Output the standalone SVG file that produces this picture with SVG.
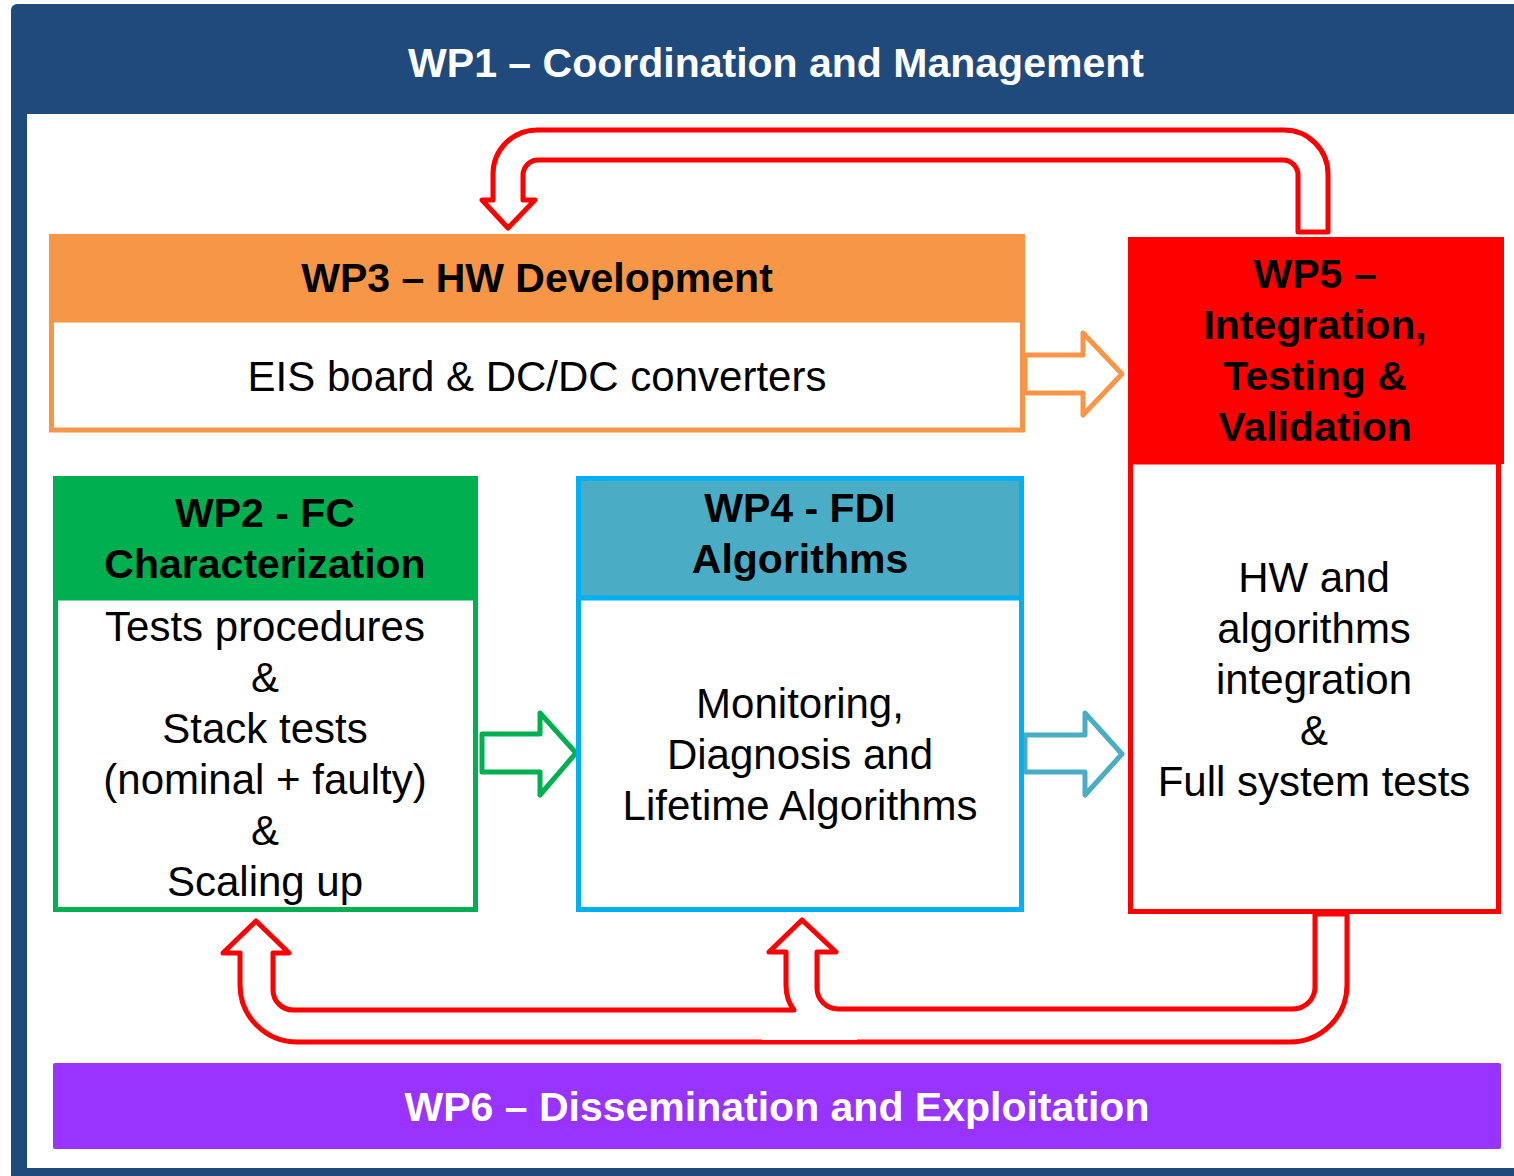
<svg xmlns="http://www.w3.org/2000/svg" width="1514" height="1176" viewBox="0 0 1514 1176">
<style>
.h{font-family:"Liberation Sans",Arial,sans-serif;font-weight:bold;font-size:41px;text-anchor:middle;fill:#000}
.b{font-family:"Liberation Sans",Arial,sans-serif;font-size:42px;text-anchor:middle;fill:#000}
.w{fill:#fff}
.arr{fill:#fff;stroke-width:5;stroke-linejoin:round}
</style>
<rect width="1514" height="1176" fill="#fff"/>
<g id="wp1">
<rect x="11" y="4" width="1530" height="1190" rx="6" fill="#214A7C"/>
<rect x="27" y="114" width="1500" height="1054" fill="#fff"/>
<text class="h w" x="776" y="77">WP1 – Coordination and Management</text>
</g>
<g id="connectors">
<path class="arr" stroke="#FF0000" d="M1298,232 L1298,175 A15,15 0 0 0 1283,160 L538,160 A15,15 0 0 0 523,175 L523,200 L535,200 L508,228 L482,200 L493,200 L493,174 A44,44 0 0 1 537,130 L1284,130 A44,44 0 0 1 1328,174 L1328,232 Z"/>
<path class="arr" stroke="#FF0000" d="M1347,914 L1347,985 A57,57 0 0 1 1290,1042 L297,1042 A57,57 0 0 1 240,985 L240,953 L223,953 L256,921 L289,953 L273,953 L273,990 A20,20 0 0 0 293,1010 L794,1010 Q786,1000 786,985 L786,952 L769,952 L802,920 L836,952 L817,952 L817,988 A21,21 0 0 0 838,1009 L1293,1009 A22,22 0 0 0 1315,987 L1315,914 Z"/>
<rect x="762" y="1037" width="95" height="3" fill="#fff"/>
<path class="arr" stroke="#F79646" d="M1025,355 L1083,355 L1083,333 L1122,374 L1083,415 L1083,393 L1025,393 Z"/>
<path class="arr" stroke="#00B050" d="M482,734 L540,734 L540,713 L576,753 L540,795 L540,772 L482,772 Z"/>
<path class="arr" stroke="#4BACC6" d="M1025,735 L1085,735 L1085,713 L1122,754 L1085,795 L1085,772 L1025,772 Z"/>
</g>
<g id="wp3">
<rect x="49" y="234" width="976" height="88" fill="#F79646"/>
<rect x="51.5" y="320" width="971" height="110" fill="#fff" stroke="#F79646" stroke-width="5"/>
<text class="h" x="537" y="292">WP3 – HW Development</text>
<text class="b" x="537" y="391">EIS board &amp; DC/DC converters</text>
</g>
<g id="wp5">
<rect x="1128" y="237" width="376" height="227" fill="#FF0000"/>
<rect x="1130.5" y="462" width="368" height="449.5" fill="#fff" stroke="#FF0000" stroke-width="5"/>
<text class="h" x="1315" y="288">WP5 –</text>
<text class="h" x="1315" y="339">Integration,</text>
<text class="h" x="1315" y="390">Testing &amp;</text>
<text class="h" x="1315" y="441">Validation</text>
<text class="b" x="1314" y="592">HW and</text>
<text class="b" x="1314" y="643">algorithms</text>
<text class="b" x="1314" y="694">integration</text>
<text class="b" x="1314" y="745">&amp;</text>
<text class="b" x="1314" y="796">Full system tests</text>
</g>
<g id="wp2">
<rect x="53" y="476" width="425" height="124" fill="#00B050"/>
<rect x="55.5" y="598" width="420" height="311.5" fill="#fff" stroke="#00B050" stroke-width="5"/>
<text class="h" x="265" y="527">WP2 - FC</text>
<text class="h" x="265" y="578">Characterization</text>
<text class="b" x="265" y="641">Tests procedures</text>
<text class="b" x="265" y="692">&amp;</text>
<text class="b" x="265" y="743">Stack tests</text>
<text class="b" x="265" y="794">(nominal + faulty)</text>
<text class="b" x="265" y="845">&amp;</text>
<text class="b" x="265" y="896">Scaling up</text>
</g>
<g id="wp4">
<rect x="578.5" y="478.5" width="443" height="431" fill="#fff" stroke="#00B0F0" stroke-width="5"/>
<rect x="581" y="481" width="438" height="116" fill="#4BACC6"/>
<line x1="578.5" y1="598" x2="1021.5" y2="598" stroke="#00B0F0" stroke-width="5"/>
<text class="h" x="800" y="522">WP4 - FDI</text>
<text class="h" x="800" y="573">Algorithms</text>
<text class="b" x="800" y="718">Monitoring,</text>
<text class="b" x="800" y="769">Diagnosis and</text>
<text class="b" x="800" y="820">Lifetime Algorithms</text>
</g>
<g id="wp6">
<rect x="53" y="1063" width="1448" height="86" rx="2" fill="#9933FF"/>
<text class="h w" x="777" y="1121">WP6 – Dissemination and Exploitation</text>
</g>
</svg>
